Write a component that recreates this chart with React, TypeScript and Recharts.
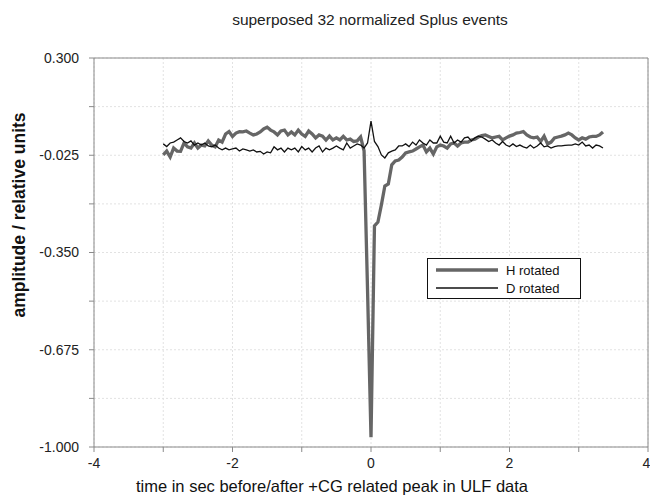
import React from "react";
import {
  LineChart,
  Line,
  XAxis,
  YAxis,
  CartesianGrid,
  ReferenceLine,
} from "recharts";

// sampled every 0.05 s, from -3.00 s to +3.35 s
const T_START = -3;
const T_STEP = 0.05;

const H_ROTATED = [
  -0.024, -0.011, -0.031, -0.001, -0.011, -0.012, 0.016, 0.003, -0.001, 0.016,
  -0.001, 0.009, 0.006, 0.023, 0.009, 0.003, 0.026, 0.019, 0.046, 0.054,
  0.038, 0.049, 0.054, 0.053, 0.056, 0.049, 0.043, 0.046, 0.053, 0.063,
  0.069, 0.059, 0.053, 0.043, 0.056, 0.059, 0.043, 0.053, 0.043, 0.059,
  0.046, 0.038, 0.056, 0.046, 0.033, 0.043, 0.039, 0.026, 0.039, 0.026,
  0.033, 0.026, 0.038, 0.026, 0.029, 0.021, 0.023, 0.036, -0.01, -0.475,
  -0.967, -0.261, -0.248, -0.191, -0.128, -0.121, -0.057, -0.044, -0.041, -0.031,
  -0.017, -0.014, -0.011, -0.004, 0.003, 0.009, -0.014, -0.001, -0.021, 0.003,
  0.009, 0.006, -0.001, 0.013, 0.016, 0.006, 0.016, 0.019, 0.019, 0.026,
  0.029, 0.036, 0.041, 0.043, 0.038, 0.033, 0.036, 0.038, 0.026, 0.033,
  0.039, 0.043, 0.049, 0.051, 0.054, 0.043, 0.036, 0.033, 0.036, 0.021,
  0.039, 0.013, 0.019, 0.033, 0.036, 0.039, 0.043, 0.049, 0.043, 0.033,
  0.026, 0.033, 0.029, 0.036, 0.038, 0.038, 0.043, 0.053,
];

const D_ROTATED = [
  0.013, 0.004, 0.016, 0.019, 0.026, 0.033, 0.021, 0.016, 0.023, 0.009,
  0.016, 0.009, 0.016, 0.006, 0.003, 0.009, -0.001, -0.007, -0.001, -0.007,
  -0.004, -0.001, -0.011, -0.004, -0.007, -0.011, -0.007, -0.014, -0.012, -0.021,
  -0.014, -0.017, 0.003, -0.007, -0.001, -0.014, -0.001, -0.007, -0.001, -0.014,
  0.004, -0.007, -0.001, -0.014, -0.001, 0.006, -0.014, -0.001, -0.007, -0.001,
  0.006, -0.001, -0.007, 0.016, -0.001, 0.006, 0.013, 0.009, -0.001, 0.016,
  0.089, 0.021, 0.004, -0.024, -0.034, -0.017, -0.011, -0.007, 0.006, 0.006,
  0.013, 0.004, 0.019, 0.009, 0.026, 0.016, 0.009, 0.026, 0.016, 0.016,
  0.039, 0.019, 0.016, 0.039, 0.016, 0.026, 0.019, 0.033, 0.036, 0.023,
  0.033, 0.039, 0.036, 0.029, 0.021, 0.026, 0.016, 0.009, 0.021, 0.009,
  0.004, 0.013, 0.004, 0.009, 0.003, -0.001, 0.009, -0.001, 0.006, 0.016,
  0.003, 0.006, -0.001, 0.004, 0.006, 0.006, 0.008, 0.009, 0.009, 0.013,
  0.009, 0.019, 0.006, 0.009, -0.001, 0.009, 0.006, -0.001,
];

const X_TICKS = [-4, -3, -2, -1, 0, 1, 2, 3, 4];
const Y_TICKS = [0.3, 0.1375, -0.025, -0.1875, -0.35, -0.5125, -0.675, -0.8375, -1.0];
const Y_LABELED = [0.3, -0.025, -0.35, -0.675, -1.0];

const TITLE = "superposed 32 normalized Splus events";
const X_TITLE = "time in sec before/after +CG related peak in ULF data";
const Y_TITLE = "amplitude / relative units";

const data = H_ROTATED.map((h, i) => ({
  t: Math.round((T_START + i * T_STEP) * 100) / 100,
  h,
  d: D_ROTATED[i],
}));

const FONT = "'Liberation Sans', Arial, sans-serif";
const axisGray = "#8a8a8a";
const tickStyle = { fill: "#222", fontSize: 14, fontFamily: FONT };

export default function App() {
  return (
    <div
      style={{
        position: "absolute",
        left: 0,
        top: 0,
        width: 650,
        height: 498,
        background: "#fff",
        fontFamily: FONT,
      }}
    >
      <div
        style={{
          position: "absolute",
          top: 11,
          left: 0,
          width: 740,
          textAlign: "center",
          fontSize: 15.5,
          color: "#222",
        }}
      >
        {TITLE}
      </div>

      <LineChart
        width={650}
        height={498}
        data={data}
        margin={{ top: 58, right: 2, bottom: 0, left: 34 }}
      >
        <CartesianGrid stroke="#e2e2e2" strokeDasharray="2 2" />
        <XAxis
          dataKey="t"
          type="number"
          domain={[-4, 4]}
          ticks={X_TICKS}
          allowDataOverflow
          height={51}
          stroke={axisGray}
          tickSize={5}
          tickMargin={6}
          tick={tickStyle}
          tickFormatter={(v) => (v % 2 === 0 ? String(v) : "")}
        />
        <YAxis
          type="number"
          domain={[-1, 0.3]}
          ticks={Y_TICKS}
          allowDataOverflow
          width={60}
          stroke={axisGray}
          tickSize={5}
          tickMargin={10}
          tick={tickStyle}
          tickFormatter={(v) =>
            Y_LABELED.some((l) => Math.abs(l - v) < 1e-6) ? v.toFixed(3) : ""
          }
        />
        <ReferenceLine y={0.3} stroke={axisGray} />
        <ReferenceLine x={4} stroke={axisGray} />
        <Line
          dataKey="h"
          stroke="#666"
          strokeWidth={3.3}
          dot={false}
          isAnimationActive={false}
        />
        <Line
          dataKey="d"
          stroke="#111"
          strokeWidth={1.3}
          dot={false}
          isAnimationActive={false}
        />
      </LineChart>

      {/* legend box */}
      <div
        style={{
          position: "absolute",
          left: 427,
          top: 258,
          width: 152,
          height: 39,
          border: "1px solid #111",
          background: "#fff",
          fontSize: 13,
          color: "#111",
        }}
      >
        <div style={{ display: "flex", alignItems: "center", height: 18, marginTop: 2 }}>
          <svg width={70} height={6} style={{ marginLeft: 8 }}>
            <line x1={0} y1={3} x2={62} y2={3} stroke="#666" strokeWidth={3.3} />
          </svg>
          <span>H rotated</span>
        </div>
        <div style={{ display: "flex", alignItems: "center", height: 18 }}>
          <svg width={70} height={6} style={{ marginLeft: 8 }}>
            <line x1={0} y1={3} x2={62} y2={3} stroke="#111" strokeWidth={1.3} />
          </svg>
          <span>D rotated</span>
        </div>
      </div>

      <div
        style={{
          position: "absolute",
          top: 477,
          left: 40,
          width: 584,
          textAlign: "center",
          fontSize: 16.5,
          color: "#111",
        }}
      >
        {X_TITLE}
      </div>

      <div
        style={{
          position: "absolute",
          left: 19,
          top: 215,
          transform: "translate(-50%, -50%) rotate(-90deg)",
          whiteSpace: "nowrap",
          fontSize: 17.5,
          fontWeight: "bold",
          color: "#111",
        }}
      >
        {Y_TITLE}
      </div>
    </div>
  );
}
